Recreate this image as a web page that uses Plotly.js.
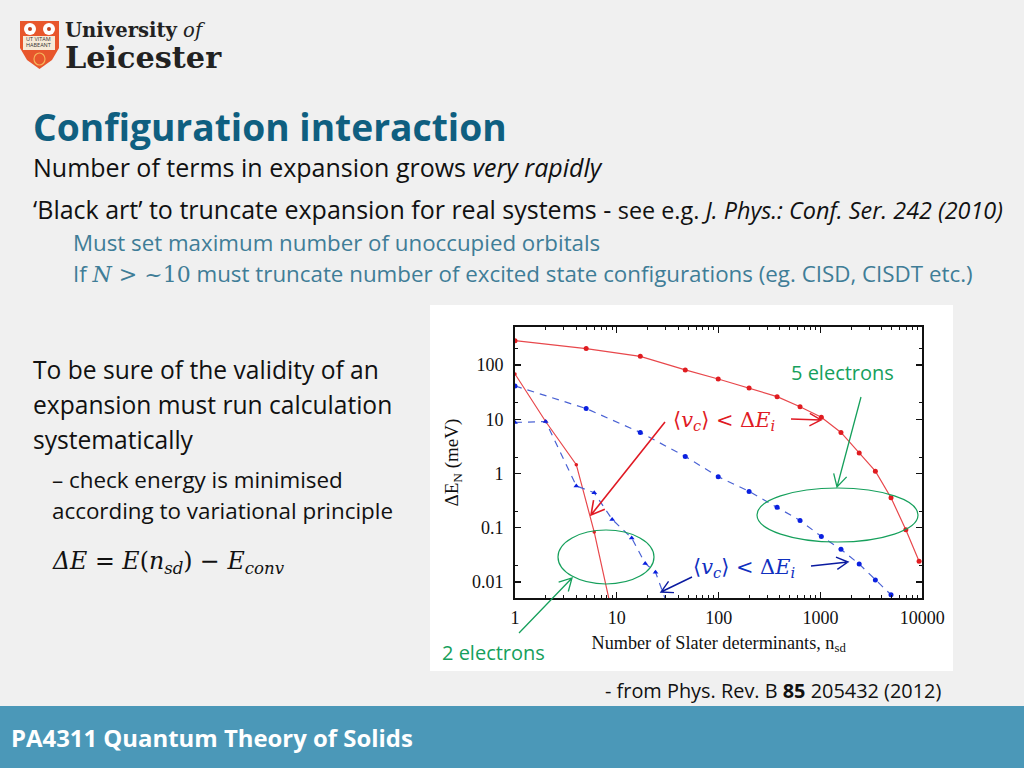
<!DOCTYPE html>
<html><head><meta charset="utf-8">
<script src="https://cdn.plot.ly/plotly-3.0.1.min.js"></script>
<style>html,body{margin:0;padding:0;background:#f0f0f0;overflow:hidden}#c{width:1024px;height:768px}</style>
</head><body><div id="c"></div>
<script>
// Data
const red5x=[1,5,17,47,99,199,375,630,1020,1590,2400,3460,4930,6890,9300];
const red5y=[280,200,144,81,55,37.7,26,16.9,10.9,5.7,2.37,1.10,0.356,0.092,0.024];
const blue5x=[1,5,17,47,99,199,375,630,1020,1590,2400,3460,4930];
const blue5y=[41,15.7,5.7,2.06,0.87,0.467,0.237,0.136,0.069,0.040,0.0214,0.0109,0.0058];
const red2x=[1,2,4,6,10];
const red2y=[68,9.06,1.45,0.083,0.00106];
const blue2x=[1,2,4,6,9,14,19,24,34];
const blue2y=[8.7,9.06,0.59,0.44,0.142,0.0646,0.0219,0.0151,0.0025];
const xTicks=[1,10,100,1000,10000];
const xLabels=['1','10','100','1000','10000'];
const yTicks=[0.01,0.1,1,10,100];
const yLabels=['0.01','0.1','1','10','100'];
const yMinor=[0.02,0.2,2,20,200];
const xMinor=[2,3,4,5,6,7,8,9,20,30,40,50,60,70,80,90,200,300,400,500,600,700,800,900,2000,3000,4000,5000,6000,7000,8000,9000];

const W=1024,H=768;
const px=x=>x/W, py=y=>1-y/H;
const SANS='"Open Sans", sans-serif', SERIF='"Liberation Serif", serif', MATH='"DejaVu Serif", serif';
const TEAL='#3f7d97', GREEN='#16a05c', RED='#e01a24', BLUE='#1030c0', INK='#111111';

function txt(x,y,text,size,color,fam,extra){
  return Object.assign({xref:'paper',yref:'paper',x:px(x),y:py(y-1),text:text,showarrow:false,xanchor:'left',yanchor:'middle',
    borderpad:0,font:{family:fam||SANS,size:size,color:color||INK}},extra||{});
}
// thin open-headed callout arrow
function arrow(x0,y0,x1,y1,color,w,len){
  const a=Math.atan2(y1-y0,x1-x0), L=len||12, s=0.5;
  const p=(x,y)=>px(x)+','+py(y);
  const b1=[x1-L*Math.cos(a-s),y1-L*Math.sin(a-s)], b2=[x1-L*Math.cos(a+s),y1-L*Math.sin(a+s)];
  return {type:'path',xref:'paper',yref:'paper',layer:'above',fillcolor:'rgba(0,0,0,0)',line:{color:color,width:w||1.4},
    path:`M${p(x0,y0)} L${p(x1,y1)} M${p(b1[0],b1[1])} L${p(x1,y1)} L${p(b2[0],b2[1])}`};
}
function rect(x0,y0,x1,y1,fill,layer){
  return {type:'rect',xref:'paper',yref:'paper',x0:px(x0),x1:px(x1),y0:py(y0),y1:py(y1),fillcolor:fill,line:{width:0},layer:layer||'below'};
}
function oval(x0,y0,x1,y1,color,fill,w){
  return {type:'circle',xref:'paper',yref:'paper',x0:px(x0),x1:px(x1),y0:py(y0),y1:py(y1),fillcolor:fill||'rgba(0,0,0,0)',line:{color:color,width:w===undefined?1.2:w},layer:'above'};
}
function path(pts,fill){
  const d=pts.map((p,i)=>(i?'L':'M')+px(p[0])+','+py(p[1])).join(' ')+' Z';
  return {type:'path',xref:'paper',yref:'paper',path:d,fillcolor:fill,line:{width:0},layer:'above'};
}
const mathBit=s=>`<span style="font-family:'DejaVu Serif',serif;font-size:22px">${s}</span>`;

const traces=[
 {x:red5x,y:red5y,mode:'lines+markers',line:{color:'#e8484c',width:1.2},marker:{color:'#e01c20',size:5,symbol:'circle'}},
 {x:blue5x,y:blue5y,mode:'lines+markers',line:{color:'#4a62d4',width:1.2,dash:'7px,6px'},marker:{color:'#0a20e0',size:5,symbol:'circle'}},
 {x:red2x,y:red2y,mode:'lines+markers',line:{color:'#e8484c',width:1.2},marker:{color:'#e01c20',size:3.5,symbol:'circle'}},
 {x:blue2x,y:blue2y,mode:'lines+markers',line:{color:'#4a62d4',width:1.2,dash:'7px,6px'},marker:{color:'#0a20e0',size:5,symbol:'triangle-up'}}
];

const annotations=[
 // logo text
 txt(64,31,'<b>University</b> <i>of</i>',19.6,'#222222',MATH),
 txt(64,58,'<b>Leicester</b>',30.3,'#222222',MATH),
 txt(25,40,'UT VITAM',5.5,'#333333',SANS),
 txt(25,46,'HABEANT',5.5,'#333333',SANS),
 // headings
 txt(31.5,127,'<b>Configuration interaction</b>',37.2,'#0f5f80'),
 txt(31.5,168,'Number of terms in expansion grows <i>very rapidly</i>',25,INK),
 txt(31.5,210,'‘Black art’ to truncate expansion for real systems - <span style="font-size:23.4px">see e.g. <i>J. Phys.: Conf. Ser. 242 (2010)</i></span>',25,INK),
 txt(71.5,243,'Must set maximum number of unoccupied orbitals',22.3,TEAL),
 txt(71.5,274,`If ${mathBit('<i>N</i> &gt; ~10')} must truncate number of excited state configurations (eg. CISD, CISDT etc.)`,22.35,TEAL),
 // left column
 txt(31.5,371,'To be sure of the validity of an',24.6,INK),
 txt(31.5,405,'expansion must run calculation',24.6,INK),
 txt(31.5,440,'systematically',24.6,INK),
 txt(50.5,480,'– check energy is minimised',22.4,INK),
 txt(50.5,511,'according to variational principle',22.4,INK),
 txt(50.5,563,'<i>ΔE</i> = <i>E</i>(<i>n<sub>sd</sub></i>) − <i>E<sub>conv</sub></i>',23.7,INK,MATH),
 // source and footer
 txt(603.5,691,'- from Phys. Rev. B <b>85</b> 205432 (2012)',19.9,INK),
 txt(9.5,738,'<b>PA4311 Quantum Theory of Solids</b>',23.9,'#ffffff'),
 // chart callouts
 txt(789.5,374,'5 electrons',20,GREEN),
 txt(440.5,653,'2 electrons',20,GREEN),
 txt(672,422,'⟨<i>v<sub>c</sub></i>⟩ &lt; Δ<i>E<sub>i</sub></i>',20.9,RED,MATH),
 txt(692,569,'⟨<i>v<sub>c</sub></i>⟩ &lt; Δ<i>E<sub>i</sub></i>',20.9,BLUE,MATH)
];

const shapes=[
 rect(430,305,953,671,'#ffffff'),
 rect(0,706,1024,768,'#4b98b8'),
 oval(558,530,654,584,GREEN),
 oval(757,488,918,542,GREEN),
 arrow(665,422,591,515,RED,1.6,15),
 arrow(791,419,821,420,RED,1.4,13),
 arrow(692,577,661,592,'#0a1aa0',1.4,13),
 arrow(811,566,848,562,'#0a1aa0',1.4,13),
 arrow(519,633,572,578,GREEN,1.3,14),
 arrow(861,397,837,487,GREEN,1.3,14),
 // logo shield
 path([[20,21],[59,21],[59,48],[52,60],[39.5,69],[27,60],[20,48]],'#e8562c'),
 rect(23,36,55,50,'#f6ead8','above'),
 oval(24,23,36,35,'#ffffff','#ffffff',0),
 oval(43,23,55,35,'#ffffff','#ffffff',0),
 oval(28,27,32,31,'#c04020','#c04020',0),
 oval(47,27,51,31,'#c04020','#c04020',0),
 oval(34,53,45,65,'#f5b35a','rgba(0,0,0,0)',1.2)
];

const axisCommon={type:'log',showgrid:false,zeroline:false,showline:true,linecolor:'#111',linewidth:1.8,mirror:'allticks',
  ticks:'inside',ticklen:6,tickwidth:1.2,tickcolor:'#111',tickmode:'array',
  tickfont:{family:SERIF,size:18,color:INK}};

const layout={width:W,height:H,autosize:false,margin:{l:0,r:0,t:0,b:0,pad:0},paper_bgcolor:'#f0f0f0',plot_bgcolor:'#ffffff',showlegend:false,
 xaxis:Object.assign({},axisCommon,{domain:[515/W,922.3/W],range:[0,4],tickvals:xTicks,ticktext:xLabels,ticklabelstandoff:2,
   minor:{tickmode:'array',tickvals:xMinor,ticks:'inside',ticklen:3,tickwidth:1,tickcolor:'#111'},
   title:{text:'Number of Slater determinants, n<sub>sd</sub>',standoff:9,font:{family:SERIF,size:18.2,color:INK}}}),
 yaxis:Object.assign({},axisCommon,{domain:[1-598.3/H,1-327/H],range:[Math.log10(0.005),Math.log10(500)],tickvals:yTicks,ticktext:yLabels,ticklabelstandoff:6,
   minor:{tickmode:'array',tickvals:yMinor,ticks:'inside',ticklen:3,tickwidth:1,tickcolor:'#111'},
   title:{text:'ΔE<sub>N</sub> (meV)',standoff:8,font:{family:SERIF,size:19,color:INK}}}),
 annotations:annotations,shapes:shapes};
Plotly.newPlot('c',traces,layout,{displayModeBar:false,staticPlot:true});
</script></body></html>
